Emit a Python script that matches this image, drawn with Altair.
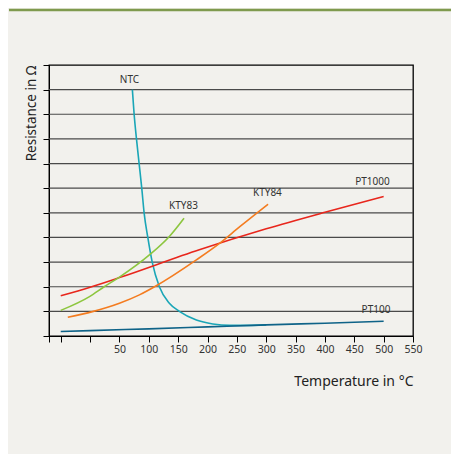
import altair as alt
import pandas as pd

# Series data (temperature in °C, resistance in grid units)
ntc_t = [72, 75, 79, 83.5, 88, 92, 98.3, 105.8, 118, 135, 152, 181, 209, 238, 270, 300]
ntc_r = [10, 9, 8, 7, 6, 5, 4, 3, 2, 1.33, 1.0, 0.65, 0.49, 0.43, 0.43, 0.45]

pt100_t = [-50, 0, 100, 200, 300, 400, 500]
pt100_r = [0.18, 0.22, 0.29, 0.37, 0.45, 0.52, 0.6]

pt1000_t = [-50, 0, 50, 186, 300, 400, 500]
pt1000_r = [1.63, 1.98, 2.37, 3.5, 4.35, 5.02, 5.66]

kty83_t = [-50, -1, 24, 50, 101, 135, 160]
kty83_r = [1.04, 1.6, 2.0, 2.39, 3.29, 4.04, 4.78]

kty84_t = [-38, 4, 50, 84, 112, 181, 221, 255, 303]
kty84_r = [0.76, 0.99, 1.33, 1.67, 2.03, 3.09, 3.77, 4.44, 5.35]

series_names = ["NTC", "PT100", "PT1000", "KTY83", "KTY84"]
series_colors = ["#1aa6b7", "#0f6388", "#e8261c", "#8dc63f", "#f47c20"]

label_names = ["NTC", "KTY83", "KTY84", "PT1000", "PT100"]
label_t = [67, 159, 302, 481, 487]
label_r = [10.38, 5.27, 5.8, 6.24, 1.05]

x_ticks = [-70, -50, 0, 50, 100, 150, 200, 250, 300, 350, 400, 450, 500, 550]
y_ticks = list(range(0, 12))
grid_values = list(range(1, 11))

rows = []
for name, ts, rs in [("NTC", ntc_t, ntc_r), ("PT100", pt100_t, pt100_r),
                     ("PT1000", pt1000_t, pt1000_r), ("KTY83", kty83_t, kty83_r),
                     ("KTY84", kty84_t, kty84_r)]:
    for i, (t, r) in enumerate(zip(ts, rs)):
        rows.append({"series": name, "t": t, "r": r, "order": i})
df = pd.DataFrame(rows)
labels = pd.DataFrame({"name": label_names, "t": label_t, "r": label_r})

FONT = "Noto Sans"

xscale = alt.Scale(domain=[-70, 550], nice=False, zero=False)
yscale = alt.Scale(domain=[0, 11], nice=False, zero=False)

x_axis = alt.Axis(values=x_ticks,
                  labelExpr="datum.value >= 50 ? datum.label : ''",
                  labelOverlap=False,
                  grid=False, tickSize=6, tickColor="black", domainColor="black",
                  labelFontSize=10.5, labelColor="#333333", labelFont=FONT,
                  labelPadding=2, labelFlush=False,
                  titleFontSize=14, titleFontWeight="normal", titleColor="#222222",
                  titleFont=FONT, titleAnchor="end", titleAlign="right",
                  titleX=364, titleY=49, titleBaseline="alphabetic")
y_axis = alt.Axis(values=y_ticks, labels=False, grid=False, tickSize=6,
                  tickColor="black", domainColor="black",
                  titleFontSize=13.5, titleFontWeight="normal",
                  titleColor="#222222", titleFont=FONT,
                  titleAnchor="end", titlePadding=4)

XT = "Temperature in °C"
YT = "Resistance in Ω"

lines = alt.Chart(df).mark_line(strokeWidth=1.6, interpolate="monotone").encode(
    x=alt.X("t:Q", scale=xscale, title=XT, axis=x_axis),
    y=alt.Y("r:Q", scale=yscale, title=YT, axis=y_axis),
    color=alt.Color("series:N", scale=alt.Scale(domain=series_names, range=series_colors),
                    legend=None),
    detail="series:N",
    order="order:Q",
)

grid = alt.Chart(pd.DataFrame({"g": grid_values})).mark_rule(
    color="#4a4a4a", strokeWidth=1.2
).encode(y=alt.Y("g:Q", scale=yscale, title=YT, axis=y_axis))

text = alt.Chart(labels).mark_text(fontSize=10, font=FONT, color="#333333").encode(
    x=alt.X("t:Q", scale=xscale, title=XT, axis=x_axis),
    y=alt.Y("r:Q", scale=yscale, title=YT, axis=y_axis),
    text="name:N"
)

topline = alt.Chart(pd.DataFrame({"a": [0]})).mark_rule(
    color="#7f9a4e", strokeWidth=2.5
).encode(x=alt.value(-40), x2=alt.value(410), y=alt.value(-55))

chart = alt.layer(grid, lines, text, topline).properties(
    width=364, height=271,
    autosize=alt.AutoSizeParams(type="none"),
    padding={"left": 41, "top": 57, "right": 38, "bottom": 118},
    background="#f2f1ed",
).configure_view(stroke="black", strokeWidth=1.3)

chart.save("out.html", embed_options={"renderer": "svg", "actions": False})
